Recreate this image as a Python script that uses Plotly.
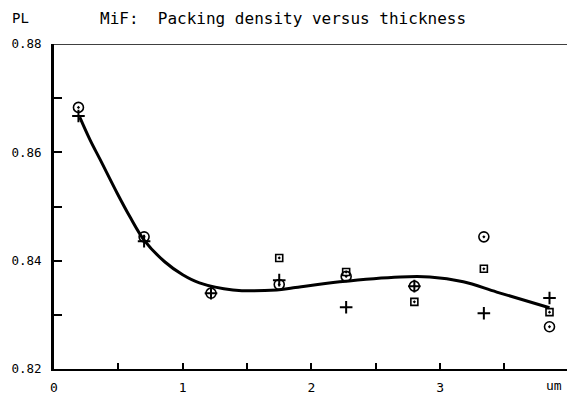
import plotly.graph_objects as go

# measured thickness positions (um)
x_circle = [0.19, 0.70, 1.22, 1.75, 2.27, 2.80, 3.34, 3.85]
y_circle = [0.8683, 0.8444, 0.8340, 0.8356, 0.8371, 0.8353, 0.8444, 0.8278]

x_square = [1.75, 2.27, 2.80, 3.34, 3.85]
y_square = [0.8405, 0.8379, 0.8324, 0.8385, 0.8305]

x_plus = [0.19, 0.70, 1.22, 1.75, 2.27, 2.80, 3.34, 3.85]
y_plus = [0.8667, 0.8436, 0.8340, 0.8364, 0.8314, 0.8353, 0.8303, 0.8331]

# fitted curve
x_fit = [0.20, 0.28, 0.36, 0.49, 0.59, 0.70, 0.86, 1.00, 1.13, 1.39, 1.73, 1.86,
         2.22, 2.69, 2.92, 3.18, 3.44, 3.85]
y_fit = [0.8665, 0.8623, 0.8586, 0.8525, 0.8481, 0.8438, 0.8398, 0.8374, 0.8359,
         0.8346, 0.8346, 0.8350, 0.8361, 0.8370, 0.8370, 0.8361, 0.8342, 0.8313]

title_text = "MiF:  Packing density versus thickness"
y_name = "PL"
x_unit = "um"

font_family = "DejaVu Sans Mono"

fig = go.Figure()
fig.add_trace(go.Scatter(x=x_fit, y=y_fit, mode="lines",
                         line=dict(color="black", width=3, shape="spline", smoothing=1.0),
                         hoverinfo="skip"))
fig.add_trace(go.Scatter(x=x_circle, y=y_circle, mode="markers",
                         marker=dict(symbol="circle-open-dot", size=10, color="black",
                                     line=dict(width=1.6, color="black"))))
fig.add_trace(go.Scatter(x=x_square, y=y_square, mode="markers",
                         marker=dict(symbol="square-open-dot", size=7, color="black",
                                     line=dict(width=1.6, color="black"))))
fig.add_trace(go.Scatter(x=x_plus, y=y_plus, mode="markers",
                         marker=dict(symbol="cross-thin-open", size=9, color="black",
                                     line=dict(width=2, color="black"))))

fig.update_layout(
    width=567, height=394,
    margin=dict(l=54, r=0, t=44, b=25),
    paper_bgcolor="white", plot_bgcolor="white",
    showlegend=False,
    font=dict(family=font_family, size=12, color="black"),
    xaxis=dict(range=[0, 3.986], showgrid=False, zeroline=False,
               showline=True, linecolor="black", linewidth=2,
               tickmode="array", tickvals=[0, 1, 2, 3], ticktext=["0", "1", "2", "3"],
               ticks="inside", ticklen=6, tickwidth=1.5, tickcolor="black",
               minor=dict(ticks="inside", dtick=0.5, ticklen=6, tickwidth=1.5, tickcolor="black"),
               ticklabelstandoff=5,
               tickfont=dict(size=13, color="black")),
    yaxis=dict(range=[0.82, 0.88], showgrid=False, zeroline=False,
               showline=True, linecolor="black", linewidth=3,
               tickmode="array", tickvals=[0.82, 0.84, 0.86, 0.88],
               ticktext=["0.82", "0.84", "0.86", "0.88"],
               ticks="inside", ticklen=8, tickwidth=1.5, tickcolor="black",
               minor=dict(ticks="inside", dtick=0.01, ticklen=8, tickwidth=1.5, tickcolor="black"),
               ticklabelstandoff=7,
               tickfont=dict(size=12.5, color="black")),
    shapes=[dict(type="line", xref="paper", yref="y", x0=0, x1=1, y0=0.88, y1=0.88,
                 line=dict(color="black", width=1.5))],
    annotations=[
        dict(text=title_text, xref="paper", yref="paper", x=0.085, y=1.0, yshift=26,
             xanchor="left", yanchor="middle", showarrow=False, font=dict(size=16)),
        dict(text=y_name, xref="paper", yref="paper", x=-0.065, y=1.0, yshift=26,
             xanchor="center", yanchor="middle", showarrow=False, font=dict(size=14)),
        dict(text=x_unit, xref="paper", yref="paper", x=1.0, xshift=-3, y=0, yshift=-16,
             xanchor="right", yanchor="middle", showarrow=False, font=dict(size=13)),
    ],
)

fig.write_html("out.html")
